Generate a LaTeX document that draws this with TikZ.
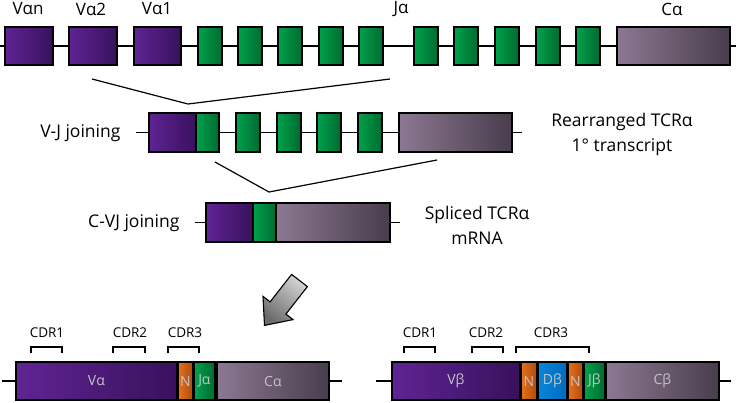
\documentclass[tikz,border=0pt]{standalone}
\usepackage{fontspec}
\setmainfont{Open Sans}
\definecolor{purL}{HTML}{5F2494}
\definecolor{purR}{HTML}{38115C}
\definecolor{grnL}{HTML}{00A24C}
\definecolor{grnR}{HTML}{006A30}
\definecolor{gryL}{HTML}{8C7892}
\definecolor{gryR}{HTML}{483D4C}
\definecolor{orgL}{HTML}{E6721E}
\definecolor{orgR}{HTML}{AE4A0C}
\definecolor{bluL}{HTML}{0A84DC}
\definecolor{bluR}{HTML}{006CBC}
\definecolor{txtg}{HTML}{C4C4C4}
\begin{document}
\begin{tikzpicture}[x=1pt,y=-1pt,
  gene/.style={draw=black, line width=1.8pt, inner sep=0pt, anchor=west, minimum height=38pt},
  vseg/.style={gene, left color=purL, right color=purR},
  jseg/.style={gene, left color=grnL, right color=grnR},
  cseg/.style={gene, left color=gryL, right color=gryR},
  nseg/.style={gene, left color=orgL, right color=orgR},
  dseg/.style={gene, left color=bluL, right color=bluR},
  inl/.style={text=txtg, font=\fontsize{14}{15}\selectfont},
  backbone/.style={line width=1.6pt},
  cross/.style={line width=1.2pt},
  bracket/.style={line width=1.5pt},
  toplab/.style={font=\fontsize{17}{18}\selectfont},
  side/.style={font=\fontsize{17.5}{25}\selectfont, align=center},
  cdr/.style={font=\fontsize{13.5}{15}\selectfont},
  arrowshape/.style={draw=black, line width=1.1pt, top color=gray!35, bottom color=gray!85!black, shading angle=-40}
]
\useasboundingbox (0,0) rectangle (736,402);

% ---------- Row 1: germline ----------
\coordinate (r1a) at (0,46);
\coordinate (r1b) at (736,46);
\draw[backbone] (r1a) -- (r1b);
\node[vseg, minimum width=48] (vn) at (4,46) {};
\node[vseg, minimum width=48] (v2) at (68,46) {};
\node[vseg, minimum width=47] (v1) at (133,46) {};
\foreach \x [count=\i] in {197,237,277,318,358,413,453,494,535,575}
  \node[jseg, minimum width=24] (j\i) at (\x,46) {};
\node[cseg, minimum width=113] (ca) at (616,46) {};
\node[toplab] (lvn) at (28,9) {Vαn};
\node[toplab] (lv2) at (91,9) {Vα2};
\node[toplab] (lv1) at (157,9) {Vα1};
\node[toplab] (lja) at (401,9) {Jα};
\node[toplab] (lca) at (672,9) {Cα};

% joining lines 1
\coordinate (x1a) at (92,79);
\coordinate (x1b) at (188,104);
\coordinate (x1c) at (390,79);
\draw[cross] (x1a) -- (x1b) -- (x1c);

% ---------- Row 2: rearranged ----------
\coordinate (r2a) at (136,132.5);
\coordinate (r2b) at (522,132.5);
\draw[backbone] (r2a) -- (r2b);
\node[vseg, minimum width=47, minimum height=39pt] (rv) at (148,132.5) {};
\node[jseg, minimum width=23, minimum height=39pt] (rj0) at (195,132.5) {};
\foreach \x [count=\i] in {235,276,316,357}
  \node[jseg, minimum width=24, minimum height=39pt] (rj\i) at (\x,132.5) {};
\node[cseg, minimum width=113, minimum height=39pt] (rc) at (398,132.5) {};
\node[side, anchor=east] (lvj) at (124,133) {V-J joining};
\node[side] (lre) at (622,134.5) {Rearranged TCRα\\1° transcript};

% joining lines 2
\coordinate (x2a) at (215,162);
\coordinate (x2b) at (269,192);
\coordinate (x2c) at (437,160);
\draw[cross] (x2a) -- (x2b) -- (x2c);

% ---------- Row 3: spliced ----------
\coordinate (r3a) at (195,222.5);
\coordinate (r3b) at (400,222.5);
\draw[backbone] (r3a) -- (r3b);
\node[vseg, minimum width=47, minimum height=39pt] (sv) at (205,222.5) {};
\node[jseg, minimum width=23, minimum height=39pt] (sj) at (252,222.5) {};
\node[cseg, minimum width=114, minimum height=39pt] (sc) at (275,222.5) {};
\node[side, anchor=east] (lcvj) at (183,223) {C-VJ joining};
\node[side] (lsp) at (477,225) {Spliced TCRα\\mRNA};

% ---------- big arrow ----------
\filldraw[arrowshape] (291.6,274.4) -- (307.4,286.6) -- (285.9,314.1) -- (293,319.6)
  -- (264.5,325.4) -- (263,296.4) -- (270.1,301.9) -- cycle;

% ---------- Bottom left: TCR alpha ----------
\coordinate (bla) at (2,381);
\coordinate (blb) at (342,381);
\draw[backbone] (bla) -- (blb);
\node[vseg, inl, minimum width=161] (bva) at (15,381) {Vα};
\node[nseg, inl, minimum width=15] (bna) at (177,381) {N};
\node[jseg, inl, minimum width=21] (bja) at (193,381) {Jα};
\node[cseg, inl, minimum width=112] (bca) at (216,381) {Cα};
\draw[bracket] (31,353) -- (31,347) -- (62,347) -- (62,353);
\draw[bracket] (113,353) -- (113,347) -- (145,347) -- (145,353);
\draw[bracket] (168,353) -- (168,347) -- (199,347) -- (199,353);
\node[cdr] (ca1) at (47,333) {CDR1};
\node[cdr] (ca2) at (130,333) {CDR2};
\node[cdr] (ca3) at (185,333) {CDR3};

% ---------- Bottom right: TCR beta ----------
\coordinate (bra) at (376,381);
\coordinate (brb) at (731,381);
\draw[backbone] (bra) -- (brb);
\node[vseg, inl, minimum width=128] (bvb) at (391,381) {Vβ};
\node[nseg, inl, minimum width=16] (bnb1) at (520,381) {N};
\node[dseg, inl, minimum width=29] (bdb) at (537,381) {Dβ};
\node[nseg, inl, minimum width=15] (bnb2) at (567,381) {N};
\node[jseg, inl, minimum width=21] (bjb) at (583,381) {Jβ};
\node[cseg, inl, minimum width=113] (bcb) at (605,381) {Cβ};
\draw[bracket] (404,353) -- (404,347) -- (435,347) -- (435,353);
\draw[bracket] (472,353) -- (472,347) -- (503,347) -- (503,353);
\draw[bracket] (516,353) -- (516,347) -- (589,347) -- (589,353);
\node[cdr] (cb1) at (420,333) {CDR1};
\node[cdr] (cb2) at (486,333) {CDR2};
\node[cdr] (cb3) at (551,333) {CDR3};
\end{tikzpicture}
\end{document}
